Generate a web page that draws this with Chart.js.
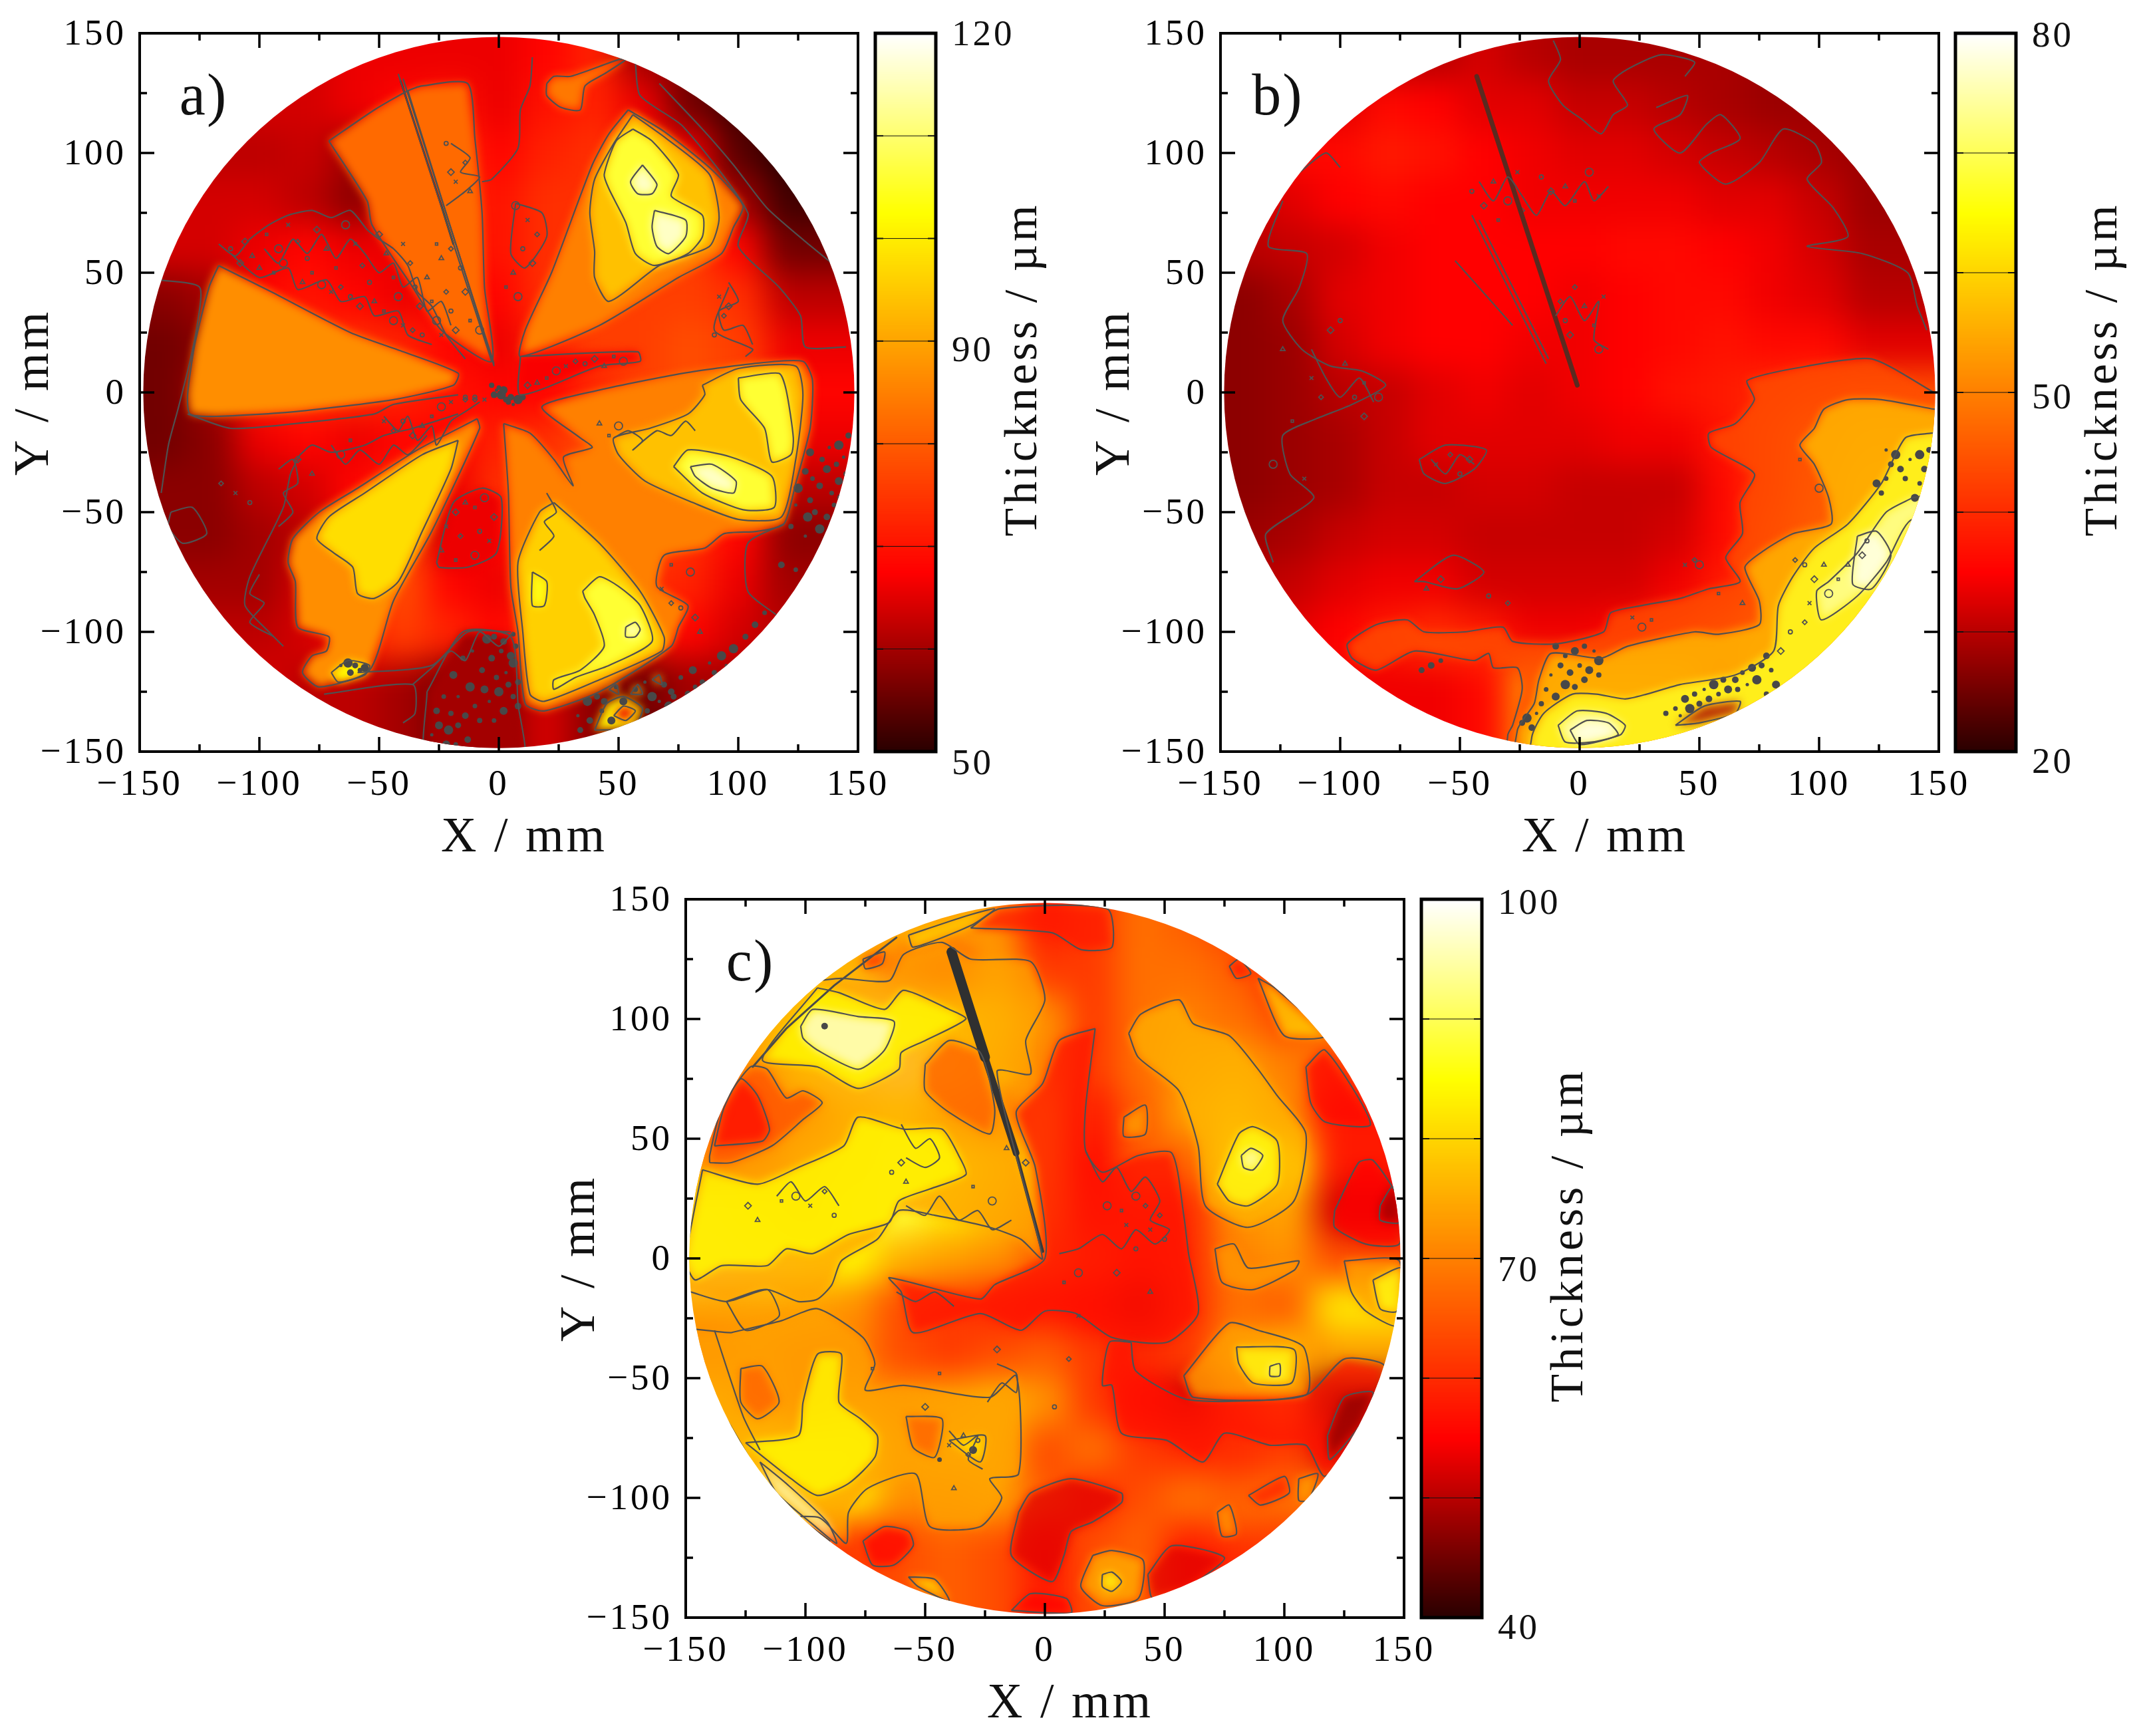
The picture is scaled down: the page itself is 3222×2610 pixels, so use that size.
<!DOCTYPE html>
<html><head><meta charset="utf-8">
<style>html,body{margin:0;background:#fff;overflow:hidden}#page{position:relative;width:3222px;height:2610px;overflow:hidden}canvas{position:absolute}</style>
<script src="https://cdn.jsdelivr.net/npm/chart.js@4/dist/chart.umd.min.js"></script>
</head><body><div id="page"></div>
<script>
const axisTicks=[-150,-125,-100,-75,-50,-25,0,25,50,75,100,125,150];
const axisLabels=[-150,-100,-50,0,50,100,150];
const gridX=[-140,-120,-100,-80,-60,-40,-20,0,20,40,60,80,100,120,140];
const gridY=[140,120,100,80,60,40,20,0,-20,-40,-60,-80,-100,-120,-140];
const gridA=[
[64,64,64,64,66,66,66,66,68,72,60,56,54,54,54],
[64,64,64,64,66,68,70,66,70,72,66,56,52,52,52],
[62,62,62,63,60,72,74,68,72,74,70,66,54,50,50],
[64,64,64,62,58,66,74,70,74,74,76,72,60,54,52],
[64,64,66,68,66,66,72,70,74,74,76,76,68,58,56],
[58,60,68,70,68,66,68,68,74,76,76,76,74,66,62],
[56,58,72,74,74,72,68,66,72,76,76,78,76,72,66],
[56,60,72,74,74,72,70,68,68,72,76,78,76,72,68],
[56,58,66,68,66,68,68,72,74,78,78,78,76,70,66],
[58,58,62,64,68,72,66,74,76,78,78,78,76,68,62],
[58,58,60,62,68,76,64,68,76,78,78,74,68,62,58],
[60,60,60,64,72,78,68,66,76,78,74,72,66,60,60],
[62,62,62,64,70,76,72,68,76,78,72,68,64,60,62],
[64,64,64,64,70,70,64,60,72,66,60,62,62,62,62],
[64,64,64,62,62,60,56,58,64,58,56,60,60,60,60]];
const gridB=[
[30,30,30,30,30,32,30,29,29,29,29,28,28,28,28],
[33,33,33,36,35,33,33,31,31,30,29,28,28,28,28],
[36,36,36,38,37,35,34,33,33,32,31,30,29,28,28],
[31,33,35,36,35,35,34,34,34,34,33,33,31,29,28],
[30,31,32,34,35,35,35,35,36,36,35,34,32,30,29],
[27,29,33,34,35,35,35,34,35,36,36,34,33,31,30],
[27,28,32,34,35,35,34,34,35,36,37,36,36,34,33],
[27,28,30,31,33,34,33,34,35,37,38,40,42,44,44],
[27,28,29,31,33,33,33,33,34,34,37,42,48,52,56],
[27,28,29,31,31,32,32,31,31,31,36,42,50,58,64],
[28,29,31,32,32,31,31,31,31,32,36,44,52,62,72],
[30,31,33,34,34,32,32,32,32,34,38,46,58,70,76],
[33,33,35,38,40,38,34,34,36,40,44,52,66,74,76],
[34,34,38,38,42,44,46,40,46,52,54,60,70,74,74],
[34,34,34,34,34,36,52,66,66,62,38,64,70,70,70]];
const gridC=[
[76,76,76,76,76,74,72,58,62,68,66,62,68,68,68],
[76,76,76,76,68,64,74,62,62,68,68,66,58,68,68],
[84,84,84,90,90,84,80,72,62,68,70,68,64,72,72],
[60,70,84,90,94,86,78,70,62,68,72,74,70,68,62],
[56,60,72,80,84,74,68,74,58,66,74,78,72,62,58],
[66,70,78,82,88,84,80,74,56,66,66,84,84,70,58],
[88,84,80,86,88,82,78,72,58,60,60,72,74,68,52],
[90,88,86,84,76,74,72,66,62,58,60,70,72,68,64],
[74,74,74,72,64,62,60,58,56,52,60,68,66,74,82],
[70,72,70,70,64,62,64,66,62,60,62,72,78,66,74],
[78,74,70,74,72,74,76,72,62,56,52,62,68,54,44],
[80,84,84,84,74,76,76,64,68,62,60,60,62,62,52],
[88,92,84,82,72,72,74,66,60,64,68,66,68,70,70],
[88,76,62,58,62,68,66,54,64,68,62,70,62,66,66],
[70,70,62,62,64,66,64,58,64,66,58,60,62,62,62]];
// contour tuples: [fill value, x,y list]. fill 0 = closed without fill, -1 = open line.
const contoursA=[
[85,[54,118,69,109,89,93,102,78,98,69,93,58,75,48,42,28,9,15,11,26,22,50,39,95,46,108]],
[94,[56,116,70,106,88,91,92,73,88,61,67,53,46,38,40,48,40,59,38,75,40,89,48,104]],
[106,[56,110,64,105,75,91,72,82,85,74,85,65,79,58,65,53,57,58,53,71,46,85,44,91,49,105]],
[116,[60,95,66,87,64,83,58,83,55,88]],
[116,[65,76,78,72,78,65,71,58,66,61,64,69]],
[85,[2,-13,13,-17,23,-28,31,-39,27,-27,39,-23,34,-19,18,-6,42,1,77,8,106,12,127,13,131,5,130,-15,124,-38,119,-55,108,-58,94,-59,86,-65,69,-68,66,-81,79,-89,75,-98,72,-106,42,-125,19,-133,11,-130,8,-100,5,-81,4,-42]],
[94,[85,3,100,10,124,11,127,-1,124,-28,118,-52,100,-53,81,-46,61,-37,50,-26,48,-19,63,-15,79,-9,86,-1]],
[106,[100,6,117,8,120,1,123,-19,122,-26,114,-29,111,-15,101,-3]],
[106,[73,-31,79,-24,97,-27,114,-35,115,-48,102,-49,85,-42]],
[116,[80,-31,89,-30,99,-37,98,-42,89,-40,82,-35]],
[96,[23,-46,42,-63,59,-83,69,-102,68,-108,42,-120,19,-129,13,-126,10,-100,8,-71,17,-50]],
[106,[35,-83,42,-77,50,-81,59,-89,64,-104,46,-114,32,-119,23,-124,23,-120,34,-116,44,-106,40,-93,36,-86]],
[116,[53,-98,57,-96,59,-99,57,-102,53,-102]],
[104,[14,-75,20,-79,19,-89,14,-89]],
[87,[-9,-11,-34,-24,-59,-40,-75,-50,-86,-61,-88,-71,-85,-79,-84,-98,-71,-102,-72,-108,-78,-110,-82,-117,-75,-123,-54,-116,-44,-87,-28,-58,-8,-15]],
[98,[-17,-20,-20,-32,-32,-58,-42,-79,-52,-86,-59,-84,-61,-73,-69,-67,-76,-61,-71,-52,-56,-42,-32,-26]],
[102,[-70,-117,-63,-112,-54,-114,-56,-118,-67,-121]],
[87,[-117,53,-95,42,-62,25,-40,17,-17,8,-19,3,-44,-3,-85,-8,-118,-10,-129,-9,-130,-1,-127,20,-121,44]],
[82,[-71,105,-52,118,-38,126,-32,128,-13,129,-10,106,-7,75,-6,44,-3,13,-24,26,-36,44,-53,70,-55,80]],
[84,[20,129,23,132,30,132,50,139,53,139,44,133,36,128,34,118,26,119,20,124]],
[66,[-26,-71,-19,-46,-7,-40,1,-44,-1,-67,-13,-73,-25,-73]],
[67,[9,15,58,17,59,13,42,11,9,-1]],
[60,[-30,-125,-15,-100,5,-102,8,-130,10,-155,-30,-155]],
[100,[40,-141,45,-130,52,-127,60,-132,56,-140]],
[66,[48,-135,52,-131,57,-133,53,-137]],
[50,[60,-139,68,-134,74,-132,70,-138]],
[105,[55,-126,58,-122,60,-126]],[105,[64,-120,67,-118,68,-122]],[105,[46,-124,49,-122,50,-126]],
[-1,[14,140,13,128,9,118,8,102,-3,89,-7,88]],
[-1,[57,138,59,124,77,111,104,75,100,61,117,44,126,32,128,19,145,19]],
[-1,[67,129,85,110,98,95,112,77,128,63,139,54]],
[-1,[-142,47,-125,44,-126,28,-129,13,-134,-7,-138,-22,-141,-42]],
[0,[-137,-50,-128,-48,-122,-59,-132,-63,-138,-56]],
[-1,[-83,-26,-87,-34,-90,-48,-104,-77,-106,-89,-96,-100,-90,-106]],
[-1,[-83,-26,-78,-22,-70,-25,-56,-22,-48,-18,-36,-15,-17,-9]],
[-1,[-130,-9,-112,-15,-85,-13,-52,-9,-44,-5,-17,-1]],
[-1,[-73,-126,-36,-122,-35,-134,-40,-138]],
[-1,[-59,-117,-28,-114,-13,-100,5,-100]],
[0,[7,79,18,75,20,65,11,52,5,58]],
[-1,[119,-55,104,-63,104,-83,116,-93]],
[-1,[96,44,90,26,106,18,103,15]],
[-1,[-117,62,-110,57,-104,64,-96,70,-88,74,-78,76,-70,73,-62,76,-55,68,-50,64,-44,60,-38,53,-34,42,-28,36,-22,24,-14,14]],
[-1,[-112,58,-100,48,-88,52,-84,43,-72,47,-66,38,-56,40,-52,32,-42,34,-38,24,-28,20]],
[-1,[-98,60,-92,54,-86,64,-80,58,-74,66,-68,56,-62,64,-56,58,-50,50,-44,54,-40,44,-34,48,-30,34,-24,38,-20,28]],
[-1,[-48,-10,-42,-16,-38,-10,-34,-20,-28,-14,-26,-22,-20,-12,-14,-8,-8,-4]],
[-1,[-92,-32,-86,-28,-84,-38,-90,-42,-86,-50,-92,-56]],
[-1,[-70,-22,-64,-30,-58,-24,-50,-30,-44,-22,-38,-26,-30,-18]],
[-1,[-100,-76,-104,-84,-98,-88,-104,-96,-94,-102]],
[-1,[-20,104,-12,98,-16,92,-8,90,-14,84,-22,78]],
[-1,[96,46,100,38,92,34,94,26,102,28,106,20]],
[-1,[48,-19,54,-16,60,-20,56,-24,66,-16,72,-18,78,-12,82,-16]],
[-1,[20,-42,24,-50,19,-54,23,-60,17,-66]],
[-1,[-36,-122,-28,-115,-20,-108,-14,-112,-8,-100,0,-106,6,-100]],
[-1,[-42,133,-3,13]],[-1,[-38,126,-2,11]],[-1,[-40,131,-2,12]]];
const dotsA=[-26,-133,-23,-127,-19,-118,-15,-111,-11,-108,-5,-103,-2,-102,2,-104,6,-101,-25,-139,-20,-134,-17,-127,-12,-123,-7,-116,-3,-111,1,-108,5,-110,7,-106,-28,-143,-21,-141,-17,-139,-14,-135,-10,-131,-6,-124,-1,-119,3,-117,6,-113,8,-121,-13,-145,-18,-147,-22,-147,-8,-137,-4,-129,0,-125,4,-122,8,-131,-2,-137,2,-133,6,-127,33,-135,37,-129,41,-127,44,-129,49,-123,52,-129,57,-124,61,-121,64,-127,69,-122,72,-125,76,-119,81,-116,85,-121,88,-113,93,-110,34,-141,38,-137,43,-133,47,-137,62,-133,67,-129,71,-131,73,-127,79,-126,82,-123,87,-122,90,-117,95,-114,98,-107,103,-102,107,-97,111,-92,130,-25,135,-28,138,-23,142,-22,146,-18,128,-33,131,-36,137,-32,141,-30,144,-27,125,-40,130,-45,134,-39,139,-42,142,-37,145,-34,124,-47,129,-52,132,-50,137,-52,140,-47,143,-44,122,-56,128,-60,134,-57,138,-61,118,-72,124,-74,132,-80,126,-88,-66,-114,-63,-113,-60,-114,-62,-117,-58,-116,-56,-115,-3,3,-1,1,1,-1,3,-3,-2,-1,0,2,2,1,4,-4,6,-5,8,-3,10,-2,5,-2];
const loopsA=[-112,60,-106,63,-103,57,-97,66,-92,60,-88,70,-84,63,-80,56,-76,68,-72,60,-68,52,-64,70,-60,62,-57,53,-54,46,-50,66,-47,58,-44,48,-42,40,-40,62,-37,54,-35,44,-33,36,-30,48,-28,38,-26,30,-24,24,-22,42,-20,34,-18,26,-82,46,-78,50,-74,45,-70,42,-66,44,-62,40,-58,36,-52,38,-48,34,-44,30,-40,28,-36,26,-32,24,-108,54,-100,52,-94,50,-90,54,-48,-12,-44,-16,-40,-12,-36,-18,-32,-14,-28,-10,-24,-6,-20,-4,-14,-3,-10,-2,-18,-50,-14,-46,-10,-48,-6,-44,-22,-56,-16,-60,-8,-58,-2,-52,-24,-66,-18,-70,-10,-68,-4,-62,-20,60,-16,52,-14,42,-24,56,-12,30,-8,26,-18,88,-14,96,-22,104,-20,92,-12,84,-26,62,7,78,12,72,16,66,10,60,14,54,6,50,3,44,8,40,92,40,94,32,90,24,96,36,42,-13,46,-18,50,-14,28,11,32,13,36,12,40,14,44,11,48,15,52,13,-6,-3,-10,-3,-14,-2,12,3,16,4,20,6,24,9,68,-82,72,-88,76,-90,82,-94,84,-100,72,-72,80,-75,-110,-42,-116,-38,-104,-46,-84,-28,-78,-34,-62,-20,-66,-26];
const contoursB=[
[44,[148,0,122,14,95,11,70,5,73,-3,65,-13,54,-17,55,-23,73,-34,67,-46,68,-59,61,-69,67,-79,54,-82,42,-86,26,-89,13,-92,10,-100,-10,-105,-28,-104,-32,-98,-48,-100,-65,-100,-72,-95,-85,-97,-97,-105,-95,-111,-85,-116,-69,-108,-44,-112,-38,-109,-36,-115,-26,-115,-24,-124,-28,-139,-30,-143,-30,-170,170,-170,170,0]],
[57,[148,-7,126,-3,112,-3,102,-7,98,-15,92,-22,98,-30,104,-44,105,-55,89,-59,77,-66,69,-73,75,-87,75,-97,58,-101,48,-100,20,-106,9,-111,-12,-109,-17,-120,-19,-130,-26,-141,-26,-170,170,-170,170,-7]],
[67,[147,-17,136,-19,126,-38,112,-55,98,-65,89,-77,83,-89,81,-108,65,-118,42,-122,28,-126,19,-128,7,-126,-3,-126,-15,-134,-20,-144,-20,-170,170,-170,170,-17]],
[74,[139,-44,128,-50,116,-67,104,-79,99,-83,101,-95,116,-85,128,-71,139,-53,170,-60,170,-40]],
[75,[-9,-139,-1,-133,11,-134,19,-139,17,-143,5,-146,-6,-146]],
[79,[116,-60,124,-58,130,-68,122,-82,114,-80]],
[79,[-4,-141,3,-137,12,-138,16,-143,0,-147]],
[29,[40,-139,52,-131,67,-129,65,-134,50,-138]],
[0,[-69,-79,-53,-68,-40,-75,-51,-82,-65,-79]],
[0,[-67,-28,-56,-22,-39,-24,-44,-32,-56,-38,-65,-34]],
[-1,[-11,147,-8,139,-13,130,-7,120,1,114,9,108,14,116,20,120,14,130,20,135,34,141,48,138,44,132]],
[-1,[32,119,45,124,42,116,31,110,42,100,53,112,59,116,67,106,55,100,50,96,61,87,75,96,85,110,98,104,101,96,95,89,106,77,112,65,95,61,118,58,137,50,141,36,145,26]],
[-1,[-124,80,-130,61,-114,58,-117,44,-124,30,-116,18,-104,11,-91,9,-81,3,-95,-5,-110,-11,-124,-18,-121,-34,-111,-44,-131,-59,-128,-71]],
[-1,[-118,91,-106,100,-100,94]],
[-1,[-42,88,-36,80,-30,90,-24,82,-18,74,-12,84,-6,78,2,88,6,80,12,86]],
[-1,[-10,32,-4,40,2,30,8,38,6,22,12,18]],
[-1,[-112,18,-106,6,-100,-2,-92,6,-86,-4]],
[-1,[-62,-28,-56,-34,-50,-26,-44,-30]],
[-1,[-45,74,-14,12]],[-1,[-42,72,-13,14]],[-1,[-52,55,-28,28]]];
const dotsB=[-10,-106,-6,-110,-2,-108,2,-106,6,-108,8,-112,-8,-114,-4,-117,0,-114,4,-116,8,-118,-12,-118,-6,-122,-2,-123,2,-120,-14,-124,-10,-127,-16,-130,-18,-134,-22,-136,-24,-138,-20,-140,40,-132,44,-128,48,-126,52,-124,56,-122,60,-120,65,-120,68,-117,72,-115,36,-134,42,-135,46,-132,50,-130,54,-128,58,-126,62,-124,66,-124,70,-122,74,-120,76,-114,78,-110,80,-116,82,-122,78,-126,128,-24,132,-26,130,-30,134,-32,128,-36,124,-38,126,-42,138,-28,142,-26,146,-24,144,-32,142,-38,140,-44,136,-36,146,-38,144,-46,-66,-116,-62,-114,-58,-112];
const loopsB=[120,-62,118,-68,112,-72,108,-78,104,-84,96,-88,94,-96,88,-100,84,-108,68,-88,58,-84,50,-72,44,-72,48,-70,-45,84,-40,78,-36,88,-34,72,-30,80,-26,92,-24,76,-16,90,-12,84,-6,86,-2,80,4,92,8,82,-8,38,-6,30,-4,24,2,36,6,28,8,18,10,40,-2,44,-100,30,-104,26,-98,12,-90,4,-84,-2,-60,-30,-54,-26,-50,-34,-46,-28,-124,18,-120,-12,-128,-30,-115,-36,90,-70,94,-72,98,-78,102,-72,30,-95,26,-98,22,-94,-30,-88,-38,-85,-58,-78,-64,-82,92,-28,100,-40,-112,6,-108,-2,-94,-2,-90,-10];
const contoursC=[
[74,[-148,-14,-133,-18,-116,-13,-103,-18,-95,-17,-89,-11,-85,-1,-70,8,-61,20,-46,18,-23,13,-10,8,-1,0,-20,78,-6,77,-8,91,0,108,-6,124,-31,125,-43,132,-59,127,-65,116,-85,117,-95,116,-170,110,-170,-14]],
[85,[-143,37,-120,31,-103,38,-84,47,-78,59,-59,54,-43,54,-36,43,-33,35,-48,29,-61,24,-65,15,-82,10,-97,2,-108,4,-116,-3,-135,-3,-146,-9,-150,-1]],
[85,[-95,113,-118,83,-95,80,-78,71,-61,79,-60,86,-50,91,-33,100,-40,104,-59,112,-67,104,-86,111]],
[98,[-102,97,-97,104,-78,101,-63,99,-67,87,-78,79,-95,87,-101,92]],
[66,[-50,81,-40,91,-27,86,-21,63,-23,52,-40,61,-50,70]],
[64,[-140,40,-131,40,-114,47,-101,58,-93,65,-101,70,-108,67,-116,79,-123,80,-135,63,-140,43]],
[56,[-138,47,-118,49,-115,54,-120,68,-127,75,-134,63]],
[58,[-76,125,-67,128,-68,123,-75,121]],
[57,[21,96,17,63,17,45,24,36,39,43,53,44,58,18,60,2,64,-23,51,-35,28,-33,13,-23,0,-22,-10,-30,-27,-23,-55,-31,-60,-14,-65,-8,-27,-17,-21,-11,0,0,-4,38,-12,61,-1,73,6,91]],
[57,[36,-35,38,-47,60,-59,109,-57,125,-42,142,-45,138,-69,117,-91,109,-78,94,-78,75,-73,66,-85,51,-76,32,-73,28,-53,24,-53,27,-35]],
[47,[118,-74,125,-58,137,-56,132,-69,119,-84]],
[55,[121,20,131,40,137,41,148,24,148,6,134,6,121,13]],
[48,[140,22,145,30,148,24,148,15,140,16]],
[56,[109,80,117,87,136,56,117,57,111,65]],
[57,[77,122,81,125,86,119,80,117]],
[53,[-11,-106,-6,-98,11,-92,32,-98,32,-102,20,-110,11,-114,8,-124,3,-135,-14,-124]],
[55,[-76,-118,-67,-112,-57,-114,-55,-120,-63,-128,-72,-128]],
[53,[43,-132,53,-120,75,-125,60,-137,45,-142]],
[55,[-14,-147,-6,-140,9,-142,11,-148]],
[58,[-31,138,-19,146,26,146,28,130,15,129,3,136]],
[76,[35,94,40,102,56,108,62,98,77,93,89,79,97,68,109,52,104,24,85,13,67,22,64,47,56,70,39,84]],
[86,[72,31,81,52,87,55,97,49,97,31,85,22,77,24]],
[96,[82,43,86,46,91,43,87,37,83,38]],
[74,[33,59,42,64,42,52,33,51]],
[73,[71,4,79,6,85,-4,106,-1,104,-5,87,-13,74,-10]],
[74,[125,-1,148,-1,147,-28,134,-22,128,-14]],
[86,[137,-9,149,-4,147,-22,140,-21]],
[74,[58,-49,77,-27,89,-30,108,-37,109,-57,62,-58]],
[86,[80,-37,104,-38,103,-52,87,-52,81,-44]],
[94,[94,-45,98,-44,98,-49,94,-49]],
[74,[-131,-31,-110,-26,-95,-21,-76,-33,-71,-44,-75,-55,-59,-53,-23,-58,-12,-49,-11,-90,-23,-92,-18,-100,-27,-112,-48,-112,-54,-90,-74,-96,-82,-106,-83,-119,-95,-108,-170,-108,-170,-31]],
[66,[-127,-46,-118,-45,-111,-60,-120,-67,-127,-60]],
[66,[-58,-66,-43,-67,-46,-83,-55,-79]],
[85,[-125,-77,-103,-74,-101,-60,-95,-40,-85,-40,-86,-60,-77,-67,-70,-74,-71,-83,-82,-94,-95,-99,-106,-92]],
[96,[-119,-85,-108,-94,-91,-110,-87,-119,-97,-111,-112,-98]],
[82,[-40,-76,-25,-74,-27,-85]],
[76,[20,-124,28,-122,41,-126,39,-142,24,-145,15,-137]],
[86,[24,-132,28,-131,32,-135,28,-139,24,-137]],
[73,[72,-106,77,-103,80,-115,74,-116]],
[74,[106,-92,114,-90,110,-101,106,-101]],
[59,[85,-99,100,-91,102,-98,90,-103]],
[80,[89,117,96,113,117,93,100,93]],
[83,[-57,-133,-46,-134,-40,-143,-53,-137]],
[80,[-57,135,-33,143,-21,146,-31,139,-55,130]],
[0,[-133,-18,-116,-13,-111,-24,-125,-30]],
[-1,[-138,-30,-126,-66,-119,-80]],
[-1,[17,45,24,32,30,38,36,28,42,34,48,24,44,16,52,12,46,6,38,12,32,4,24,10,14,4,6,2]],
[-1,[-62,-14,-54,-18,-46,-14,-38,-20]],
[-1,[-58,22,-50,18,-44,26,-36,16,-28,20,-22,12,-14,16]],
[-1,[-112,26,-106,32,-100,24,-92,30,-86,22]],
[-1,[-60,56,-54,46,-48,50,-44,42,-50,38,-58,42]],
[-1,[-24,-60,-18,-52,-12,-56,-12,-48,-20,-44]],
[-1,[-40,-72,-34,-78,-28,-74,-32,-84,-26,-88]]];
const dotsC=[-92,97,-44,-84,-30,-80];
const loopsC=[-64,36,-60,40,-58,32,-110,24,-104,26,-98,22,-92,28,-88,18,-124,22,-120,16,32,20,38,26,44,12,48,18,38,4,30,-6,44,-14,8,-10,14,-6,-40,-78,-32,-82,-28,-76,-50,-62,-38,-96,-44,-48,26,22,34,14,42,22,50,8,-8,40,-16,46,-30,30,-22,24,14,-24,10,-42,4,-62,-20,-38,-34,-74,-72,-46];
const needlesA=[[3,'#7a1010',[-41,130,-24,78]],[3,'#333333',[-24,78,-19,62]]];
const needlesB=[[7,'#5a2a20',[-43,132,-1,3]],[3.5,'#f04a14',[-43,132,-12,38]]];
const needlesC=[[15,'#2f3030',[-39,128,-25,84]],[10,'#333333',[-25,84,-12,44]],[5,'#3a3a3a',[-12,44,-1,3]],[3,'#4a4a4a',[-150,-20,-146,-38,-136,-62,-122,-86,-106,-106,-90,-118]],[3,'#4a4a4a',[-122,80,-108,96,-88,114,-62,134]]];
const panelA={name:'a)',nameX:96,x:210,y:50,min:50,max:120,cbX:1316,cbTicks:[50,90,120],cbShift:[16,12,0],levels:[60,70,80,90,100,110],grid:gridA,contours:contoursA,dots:dotsA,loops:loopsA,needles:needlesA,alpha:1};
const panelB={name:'b)',nameX:86,x:1835,y:50,min:20,max:80,cbX:2940,cbTicks:[20,50,80],cbShift:[14,6,2],levels:[30,40,50,60,70],grid:gridB,contours:contoursB,dots:dotsB,loops:loopsB,needles:needlesB,alpha:.8};
const panelC={name:'c)',nameX:97,x:1031,y:1352,min:40,max:100,cbX:2137,cbTicks:[40,70,100],cbShift:[14,16,4],levels:[50,60,70,80,90],grid:gridC,contours:contoursC,dots:dotsC,loops:loopsC,needles:needlesC,alpha:.75};

const SERIF='"Liberation Serif",serif', INK='#111', LINE='#505050', WAFER=148.5;
const loopStyles=['circle','rectRot','triangle','rect','circle','crossRot','rectRot'], loopSizes=[3,5,4,2.5,6,4,3.5], dotSizes=[5,3.5,6,4,2.5,7,4.5];
function hot(t){t=Math.max(0,Math.min(1,t));
  const r=t<.25?.16+.84*t/.25:1,g=t<.25?0:t<.75?(t-.25)/.5:1,b=t<.75?0:(t-.75)/.25;
  return `rgb(${Math.round(r*255)},${Math.round(g*255)},${Math.round(b*255)})`;}
function pairs(f){const o=[];for(let i=0;i<f.length;i+=2)o.push({x:f[i],y:f[i+1]});return o;}
function fmt(v){return v<0?'\u2212'+(-v):String(v);}
function canvas(l,t,w,h){const c=document.createElement('canvas');c.width=w;c.height=h;c.style.left=l+'px';c.style.top=t+'px';c.style.width=w+'px';c.style.height=h+'px';document.getElementById('page').appendChild(c);return c;}
const spacing={id:'spacing',beforeDraw(ch){ch.ctx.letterSpacing='4px';}};
function drawText(ctx,s,x,y,font,rot,ls,align){ctx.save();ctx.translate(x,y);ctx.rotate(rot||0);ctx.font=font;ctx.letterSpacing=(ls||0)+'px';ctx.fillStyle=INK;ctx.textAlign=align||'center';ctx.textBaseline='alphabetic';ctx.fillText(s,0,0);ctx.restore();}

function plotChart(p){
  const L=210,T=50,S=1080,R=70,B=185;
  const toC=v=>hot((v-p.min)/(p.max-p.min));
  const ds=[];
  const cells=[];gridY.forEach((y,r)=>gridX.forEach((x,c)=>cells.push({x,y,v:p.grid[r][c]})));
  ds.push({data:cells,pointRadius:0,showLine:false,kind:'grid'});
  p.contours.forEach(([fill,f])=>{const pts=pairs(f);if(fill>=0)pts.push(pts[0]);
    ds.push({data:pts,showLine:true,pointRadius:0,borderColor:LINE,borderWidth:2.2,tension:.22,fill:false,kind:'contour',level:fill});});
  p.needles.forEach(([w,col,f])=>ds.push({data:pairs(f),showLine:true,pointRadius:0,borderColor:col,borderWidth:w,tension:0,fill:false,kind:'needle',borderCapStyle:'round'}));
  ds.push({data:pairs(p.loops),pointRadius:c=>loopSizes[c.dataIndex%7],pointStyle:c=>loopStyles[c.dataIndex%7],pointBackgroundColor:'rgba(0,0,0,0)',pointBorderColor:LINE,pointBorderWidth:1.8,showLine:false,kind:'loops'});
  ds.push({data:pairs(p.dots),pointRadius:c=>dotSizes[c.dataIndex%7],pointBackgroundColor:'#484848',pointBorderColor:'#484848',pointBorderWidth:0,showLine:false,kind:'dots'});
  const field={id:'field',
    beforeDatasetsDraw(ch){
      const ctx=ch.ctx,sx=ch.scales.x,sy=ch.scales.y,cx=sx.getPixelForValue(0),cy=sy.getPixelForValue(0),rad=sx.getPixelForValue(WAFER)-cx;
      ctx.save();ctx.beginPath();ctx.arc(cx,cy,rad,0,Math.PI*2);ctx.clip();
      const off=document.createElement('canvas');off.width=ch.width;off.height=ch.height;const o=off.getContext('2d');
      const w=sx.getPixelForValue(20)-sx.getPixelForValue(0),m=ch.getDatasetMeta(0);
      m.data.forEach((el,i)=>{const d=cells[i];o.fillStyle=toC(d.v);
        const ex=(d.x===-140||d.x===140)?60:0,ey=(d.y===-140||d.y===140)?60:0;
        o.fillRect(el.x-w/2-ex-.5,el.y-w/2-ey-.5,w+2*ex+1,w+2*ey+1);});
      ctx.filter='blur(24px)';ctx.drawImage(off,0,0);ctx.filter='blur(7px)';
      ctx.globalAlpha=p.alpha;
      ch.data.datasets.forEach((d,i)=>{if(d.kind!=='contour'||d.level<=0)return;
        const e=ch.getDatasetMeta(i).data;ctx.beginPath();e.forEach((q,j)=>j?ctx.lineTo(q.x,q.y):ctx.moveTo(q.x,q.y));ctx.closePath();ctx.fillStyle=toC(d.level);ctx.fill();});
      ctx.filter='none';ctx.globalAlpha=1;
    },
    afterDatasetsDraw(ch){ch.ctx.restore();},
    afterDraw(ch){
      const ctx=ch.ctx,a=ch.chartArea,sx=ch.scales.x,sy=ch.scales.y;
      ctx.save();ctx.strokeStyle='#000';ctx.lineCap='butt';ctx.lineWidth=3.5;
      axisTicks.forEach(v=>{const l=axisLabels.includes(v)?22:11,px=sx.getPixelForValue(v),py=sy.getPixelForValue(v);
        ctx.beginPath();ctx.moveTo(px,a.bottom);ctx.lineTo(px,a.bottom-l);ctx.moveTo(px,a.top);ctx.lineTo(px,a.top+l);
        ctx.moveTo(a.left,py);ctx.lineTo(a.left+l,py);ctx.moveTo(a.right,py);ctx.lineTo(a.right-l,py);ctx.stroke();});
      ctx.lineWidth=4;ctx.strokeRect(a.left,a.top,a.right-a.left,a.bottom-a.top);ctx.restore();
      drawText(ctx,p.name,a.left+p.nameX,a.top+122,'88px '+SERIF,0,2);
      drawText(ctx,'X / mm',a.left+578,a.bottom+150,'74px '+SERIF,0,4);
      drawText(ctx,'Y / mm',a.left-138,(a.top+a.bottom)/2,'74px '+SERIF,-Math.PI/2,4);
    }};
  const fit=(w,h)=>s=>{if(w)s.width=w;if(h)s.height=h;s.paddingLeft=s.paddingRight=s.paddingTop=s.paddingBottom=0;};
  const axis=(fitFn,pad,off)=>({type:'linear',min:-150,max:150,grid:{display:false,drawTicks:false},border:{display:false},afterFit:fitFn,
    afterBuildTicks:s=>{s.ticks=axisTicks.map(v=>({value:v}));},
    ticks:{autoSkip:false,maxRotation:0,padding:pad,labelOffset:off,color:'#000',font:{family:SERIF,size:55},callback:v=>axisLabels.includes(v)?fmt(v):''}});
  new Chart(canvas(p.x-L,p.y-T,L+S+R,T+S+B),{type:'scatter',data:{datasets:ds},plugins:[spacing,field],
    options:{responsive:false,animation:false,events:[],layout:{padding:{top:T,right:R,left:0,bottom:0}},
      plugins:{legend:{display:false},tooltip:{enabled:false}},
      scales:{x:axis(fit(0,B),18,0),y:axis(fit(L,0),20,3)}}});
}
function barChart(p){
  const L=5,T=50,W=91,S=1080,R=180,B=40,val=v=>hot((v-p.min)/(p.max-p.min));
  const bar={id:'bar',afterDraw(ch){
    const ctx=ch.ctx,a=ch.chartArea,y=ch.scales.y;
    for(let v=p.min;v<p.max;v+=.1){ctx.fillStyle=val(v+.05);const t=y.getPixelForValue(v+.1),b=y.getPixelForValue(v);ctx.fillRect(a.left,t,a.right-a.left,b-t+1);}
    ctx.strokeStyle='#111';
    p.levels.forEach(v=>{const q=y.getPixelForValue(v);ctx.lineWidth=1;ctx.beginPath();ctx.moveTo(a.left,q);ctx.lineTo(a.right,q);ctx.stroke();
      ctx.lineWidth=2;ctx.beginPath();ctx.moveTo(a.left,q);ctx.lineTo(a.left+12,q);ctx.moveTo(a.right,q);ctx.lineTo(a.right-12,q);ctx.stroke();});
    ctx.strokeStyle='#000';ctx.lineWidth=5;ctx.strokeRect(a.left,a.top,a.right-a.left,a.bottom-a.top);
    p.cbTicks.forEach((v,i)=>{ctx.textBaseline='middle';drawText(ctx,String(v),a.right+24,y.getPixelForValue(v)+p.cbShift[i]+18,'55px '+SERIF,0,4,'left');});
    drawText(ctx,'Thickness / \u00b5m',a.right+151,(a.top+a.bottom)/2-35,'70px '+SERIF,-Math.PI/2,5);
  }};
  new Chart(canvas(p.cbX-L,p.y-T,L+W+R,T+S+B),{type:'scatter',data:{datasets:[{data:p.cbTicks.map(v=>({x:0,y:v})),pointRadius:0}]},plugins:[bar],
    options:{responsive:false,animation:false,events:[],layout:{padding:{top:T,right:0,left:L,bottom:B}},
      plugins:{legend:{display:false},tooltip:{enabled:false}},
      scales:{x:{display:false,min:0,max:1},
        y:{position:'right',min:p.min,max:p.max,grid:{display:false,drawTicks:false},border:{display:false},
          afterFit:s=>{s.width=R;s.paddingTop=s.paddingBottom=0;},
          afterBuildTicks:s=>{s.ticks=p.cbTicks.map(v=>({value:v}));},
          ticks:{display:false}}}}});
}
[panelA,panelB,panelC].forEach(p=>{plotChart(p);barChart(p);});
</script></body></html>
